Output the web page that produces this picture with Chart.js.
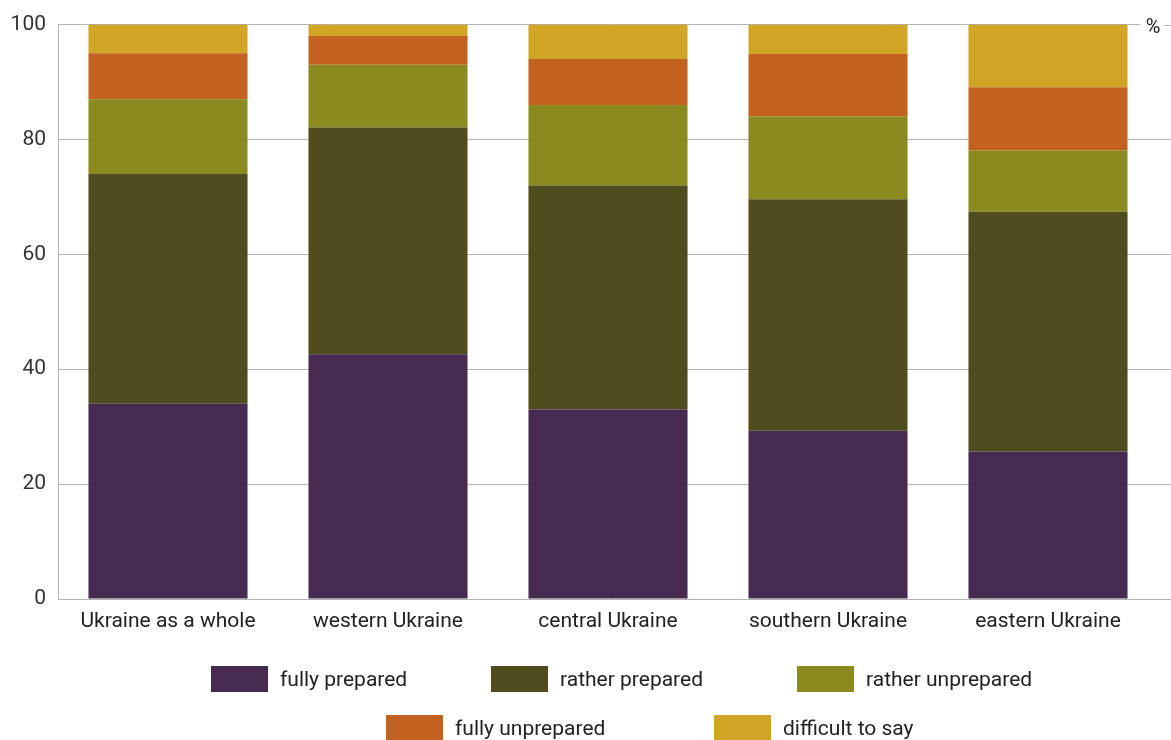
<!DOCTYPE html>
<html>
<head>
<meta charset="utf-8">
<script src="https://cdn.jsdelivr.net/npm/chart.js@4"></script>
<style>
  html, body { margin: 0; padding: 0; background: #fff; }
  #wrap { position: relative; width: 1171px; height: 740px; font-family: Roboto, "Noto Sans", sans-serif; }
  canvas { position: absolute; left: 0; top: 0; }
  .lg { position: absolute; display: flex; align-items: center; font-size: 21px; color: #222; white-space: nowrap; }
  .lg span.box { display: inline-block; width: 57px; height: 26px; margin-right: 12px; }
</style>
</head>
<body>
<div id="wrap">
  <canvas id="c" width="1171" height="740"></canvas>
  <div id="legend"></div>
</div>
<script>
const categories = ["Ukraine as a whole", "western Ukraine", "central Ukraine", "southern Ukraine", "eastern Ukraine"];
const seriesNames = ["fully prepared", "rather prepared", "rather unprepared", "fully unprepared", "difficult to say"];
const fullyPrepared    = [34.0, 42.6, 33.0, 29.3, 25.7];
const ratherPrepared   = [40.0, 39.5, 39.0, 40.3, 41.7];
const ratherUnprepared = [13.0, 10.9, 14.0, 14.4, 10.7];
const fullyUnprepared  = [8.0, 5.0, 8.0, 10.9, 11.0];
const difficultToSay   = [5.0, 2.0, 6.0, 5.1, 10.9];
const yTicks = [0, 20, 40, 60, 80, 100];
const unitLabel = "%";

const colors = ["#472a50", "#4f4d1d", "#8a8a1e", "#c3611f", "#d1a627"];
const seriesValues = [fullyPrepared, ratherPrepared, ratherUnprepared, fullyUnprepared, difficultToSay];

const gridColor = "#b3b3b3";
const fontFamily = "Roboto, 'Noto Sans', sans-serif";

const extendPlugin = {
  id: "extendGrid",
  beforeDatasetsDraw(chart) {
    const ctx = chart.ctx, y = chart.scales.y, a = chart.chartArea;
    ctx.save();
    ctx.strokeStyle = gridColor;
    ctx.lineWidth = 1;
    y.ticks.forEach(t => {
      const py = Math.round(y.getPixelForValue(t.value)) + 0.5;
      ctx.beginPath();
      ctx.moveTo(a.right - 1, py);
      ctx.lineTo(chart.width, py);
      ctx.stroke();
    });
    ctx.restore();
  },
  afterDraw(chart) {
    const ctx = chart.ctx, y = chart.scales.y;
    const py = y.getPixelForValue(100);
    ctx.save();
    ctx.font = "20px " + fontFamily;
    ctx.fillStyle = "#fff";
    ctx.fillRect(1140, py - 4, 24, 8);
    ctx.fillStyle = "#222";
    ctx.textAlign = "center";
    ctx.textBaseline = "middle";
    ctx.fillText(unitLabel, 1153, py + 3);
    ctx.restore();
  }
};

new Chart(document.getElementById("c"), {
  type: "bar",
  data: {
    labels: categories,
    datasets: seriesNames.map((n, i) => ({
      label: n,
      data: seriesValues[i],
      backgroundColor: colors[i],
      borderWidth: 0,
      barPercentage: 0.723,
      categoryPercentage: 1.0
    }))
  },
  options: {
    responsive: false,
    animation: false,
    devicePixelRatio: 1,
    layout: { padding: { top: 22, right: 13, bottom: 101, left: 0 } },
    plugins: { legend: { display: false }, tooltip: { enabled: false } },
    scales: {
      x: {
        stacked: true,
        grid: { display: false, drawTicks: false },
        border: { display: false },
        ticks: { color: "#222", font: { family: fontFamily, size: 21 }, padding: 10, maxRotation: 0 },
        afterFit(s) { s.height = 40; }
      },
      y: {
        stacked: true,
        min: 0, max: 100,
        afterBuildTicks(s) { s.ticks = yTicks.map(v => ({ value: v })); },
        grid: { color: gridColor, drawTicks: false, lineWidth: 1 },
        border: { display: true, color: gridColor },
        ticks: { color: "#333", font: { family: fontFamily, size: 21 }, padding: 12 },
        afterFit(s) { s.width = 58; }
      }
    }
  },
  plugins: [extendPlugin]
});

// HTML legend
const legendPos = [[211, 666], [491, 666], [797, 666], [386, 715], [714, 715]];
const lg = document.getElementById("legend");
seriesNames.forEach((n, i) => {
  const d = document.createElement("div");
  d.className = "lg";
  d.style.left = legendPos[i][0] + "px";
  d.style.top = legendPos[i][1] + "px";
  d.style.height = "26px";
  const b = document.createElement("span");
  b.className = "box";
  b.style.background = colors[i];
  d.appendChild(b);
  d.appendChild(document.createTextNode(n));
  lg.appendChild(d);
});
</script>
</body>
</html>
